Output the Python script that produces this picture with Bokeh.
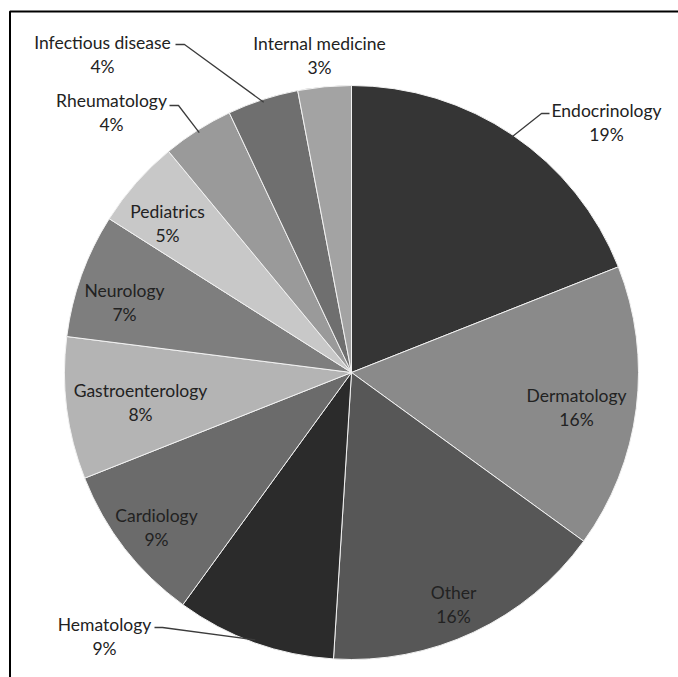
import numpy as np
from bokeh.plotting import figure
from bokeh.models import Range1d, ColumnDataSource
from bokeh.core.properties import value
from bokeh.embed import file_html
from bokeh.resources import INLINE

# ---- data ----
specialties = ["Endocrinology", "Dermatology", "Other", "Hematology", "Cardiology",
               "Gastroenterology", "Neurology", "Pediatrics", "Rheumatology",
               "Infectious disease", "Internal medicine"]
percent = [19, 16, 16, 9, 9, 8, 7, 5, 4, 4, 3]

# ---- styles / layout ----
shades = ["#353535", "#8a8a8a", "#575757", "#2b2b2b", "#6b6b6b",
          "#b4b4b4", "#7e7e7e", "#c8c8c8", "#9a9a9a", "#6f6f6f", "#a3a3a3"]
# label centre (screen px) of the name line; percentage sits one line lower
label_pos = {
    "Endocrinology": (606, 110), "Dermatology": (576, 395), "Other": (453, 592),
    "Hematology": (104, 624), "Cardiology": (156, 515), "Gastroenterology": (140, 390),
    "Neurology": (124, 290), "Pediatrics": (167, 211), "Rheumatology": (111, 100),
    "Infectious disease": (102, 42), "Internal medicine": (319, 43),
}
# leader stubs (start, end of short horizontal piece) for labels placed outside
leader_stub = {
    "Endocrinology": ((549, 113), (541, 113)),
    "Hematology": ((154, 627), (162, 627)),
    "Rheumatology": ((169, 105), (178, 105)),
    "Infectious disease": ((175, 44), (184, 44)),
}
LINE_GAP = 24
CX, CY, R = 351, 372, 287
W, H = 678, 677

p = figure(width=W, height=H, x_range=Range1d(0, W), y_range=Range1d(-H, 0),
           output_backend="svg", toolbar_location=None, x_axis_type=None, y_axis_type=None,
           min_border=0)
p.outline_line_color = None
p.background_fill_color = "white"

frac = np.array(percent, dtype=float) / sum(percent)
cum = np.concatenate([[0.0], np.cumsum(frac)])
start = np.pi / 2 - 2 * np.pi * cum[1:]
end = np.pi / 2 - 2 * np.pi * cum[:-1]

src = ColumnDataSource(dict(name=specialties, start=start, end=end, color=shades))
p.wedge(x=CX, y=-CY, radius=R, start_angle="start", end_angle="end",
        fill_color="color", line_color="#f2f2f2", line_width=1, source=src)

# leader lines
xs, ys = [], []
for i, name in enumerate(specialties):
    if name in leader_stub:
        mid = np.pi * (cum[i] + cum[i + 1])
        ex = CX + R * 0.99 * np.sin(mid)
        ey = CY - R * 0.99 * np.cos(mid)
        (ax, ay), (bx, by) = leader_stub[name]
        xs.append([ax, bx, ex])
        ys.append([-ay, -by, -ey])
p.multi_line(xs, ys, line_color="#3c3c3c", line_width=1.3)

# labels
nx = [label_pos[n][0] for n in specialties]
ny = [-label_pos[n][1] for n in specialties]
py = [-(label_pos[n][1] + LINE_GAP) for n in specialties]
pct = [f"{v}%" for v in percent]
common = dict(text_font=value("Lato"), text_font_size="17.5px", text_align="center",
              text_baseline="middle", text_color="#222222")
p.text(x=nx, y=ny, text=specialties, **common)
p.text(x=nx, y=py, text=pct, **common)

# outer frame of the figure (left and top edges visible)
p.line(x=[9.5, 9.5, W], y=[-H, -11, -11], line_color="black", line_width=2)

open("out.html", "w").write(file_html(p, INLINE))
